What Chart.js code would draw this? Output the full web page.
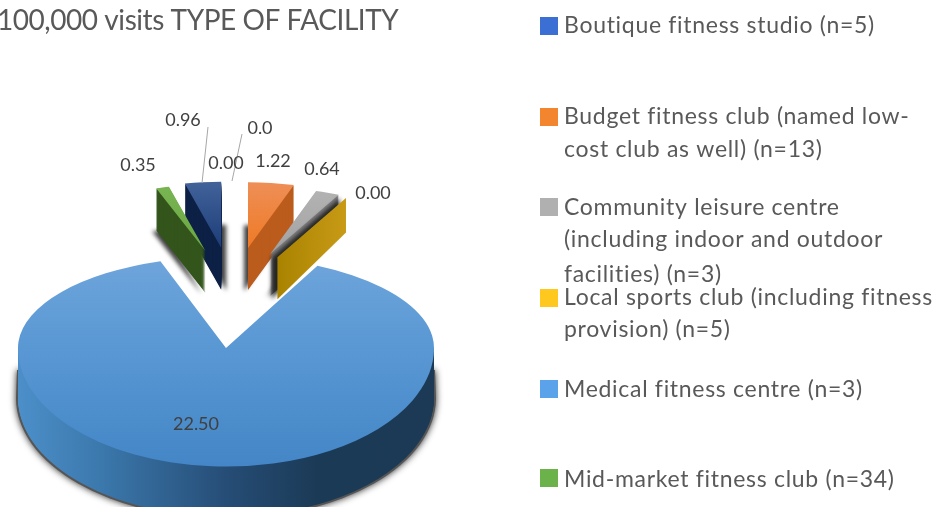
<!DOCTYPE html>
<html><head><meta charset="utf-8">
<style>html,body{margin:0;padding:0;background:#fff;overflow:hidden}
#wrap{width:943px;height:507px;position:relative;overflow:hidden}
canvas{display:block;filter:blur(0.55px)}</style>
<script src="https://cdn.jsdelivr.net/npm/chart.js@4"></script></head>
<body><div id="wrap"><canvas id="c" width="943" height="507"></canvas></div>
<script>
const categories = ["Boutique fitness studio (n=5)","Budget fitness club (named low-cost club as well) (n=13)","Community leisure centre (including indoor and outdoor facilities) (n=3)","Local sports club (including fitness provision) (n=5)","Medical fitness centre (n=3)","Mid-market fitness club (n=34)","Not listed in legend (a)","Not listed in legend (b)"];
const values = [0.00,1.22,0.64,0.00,22.50,0.35,0.96,0.00];
const valueLabels = ["0.00","1.22","0.64","0.00","22.50","0.35","0.96","0.0"];
const colors = ["#4472C4","#ED7D31","#A5A5A5","#FFC000","#5B9BD5","#70AD47","#264478","#9E480E"];
const swatchColors = ["#3C6FD4","#F4852F","#B0B0B0","#FFC81E","#5AA2EA","#6CB24A"];
const titleText = "100,000 visits TYPE OF FACILITY";
const legendLines = [
 ["Boutique fitness studio (n=5)"],
 ["Budget fitness club (named low-","cost club as well) (n=13)"],
 ["Community leisure centre","(including indoor and outdoor","facilities) (n=3)"],
 ["Local sports club (including fitness","provision) (n=5)"],
 ["Medical fitness centre (n=3)"],
 ["Mid-market fitness club (n=34)"]];

const FONT = 'Lato, "Open Sans", sans-serif';
const TEXT = '#595959';
const MAIN = 4;                       // index of the big slice
const PIE = {x:226,y:348,backK:0.44,frontK:0.57,depth:50};
const SMALL = {sx:0.75,sy:0.317,explode:101,shift:7,depth:42};
const FACE = {1:['#ee8f58','#ef7a25'],2:['#b4b4b4','#a2a2a2'],5:['#79b553','#6aa842'],6:['#43639b','#1c3d78']};
const WALL = {1:'#bb5c1d',2:'#7f7f7f',3:'#bc930b',5:'#33551c',6:'#0d2045'};
const DRAW_ORDER = [6,5,1,2,3];
const LABEL_POS = [[226,163],[273,161],[322,169],[373,193],[196,424],[138,165],[183,120],[260,128]];
const LEADERS = [[[208,127],[202,183]],[[242,134],[232,181]]];
const LEGEND_Y = [[33],[124,157],[215,247,282],[305,337],[397],[487]];
const SWATCH_Y = [17,108,198,289,380,469];

function withArc(arc,fill,ctx){
  const saved=arc.options;
  arc.options=Object.assign({},saved,{backgroundColor:fill,borderWidth:0});
  arc.draw(ctx);
  arc.options=saved;
}
function smallPlace(arc){
  const mid=(arc.startAngle+arc.endAngle)/2+Math.PI/2;
  return {x:PIE.x+SMALL.shift+SMALL.explode*Math.sin(mid),y:PIE.y-SMALL.explode*Math.cos(mid)};
}
function placeCtx(ctx,arc,px,py,sx,sy,dy){
  ctx.translate(px,py+(dy||0));ctx.scale(sx,sy);ctx.translate(-arc.x,-arc.y);
}
function flatGrad(ctx,arc,py,sy,y0,y1,c0,c1){
  const g=ctx.createLinearGradient(0,arc.y+(y0-py)/sy,0,arc.y+(y1-py)/sy);
  g.addColorStop(0,c0);g.addColorStop(1,c1);return g;
}
function drawSmall(ctx,arc,i){
  const p=smallPlace(arc),S=SMALL;
  if(arc.circumference===0){
    // a slice of no angle still shows its one radial wall
    if(!WALL[i])return;
    const a=arc.startAngle,R=arc.outerRadius;
    const ex=p.x+Math.cos(a)*R*S.sx, ey=p.y+Math.sin(a)*R*S.sy;
    const g=ctx.createLinearGradient(p.x,0,ex,0);
    g.addColorStop(0,'#a98300');g.addColorStop(1,'#c89a16');
    ctx.save();ctx.shadowColor='rgba(0,0,0,.7)';ctx.shadowBlur=4;ctx.shadowOffsetX=-6;
    ctx.fillStyle=g;ctx.beginPath();ctx.moveTo(p.x,p.y);ctx.lineTo(ex,ey);
    ctx.lineTo(ex,ey+S.depth*0.82);ctx.lineTo(p.x,p.y+S.depth);ctx.closePath();ctx.fill();
    ctx.restore();
    return;
  }
  ctx.save();
  ctx.shadowColor='rgba(0,0,0,.75)';ctx.shadowBlur=4;
  ctx.shadowOffsetX=i===6?5:-4;ctx.shadowOffsetY=1;
  ctx.save();placeCtx(ctx,arc,p.x,p.y,S.sx,S.sy,S.depth);withArc(arc,WALL[i],ctx);ctx.restore();
  ctx.restore();
  for(let d=S.depth-1;d>=1;d--){
    ctx.save();placeCtx(ctx,arc,p.x,p.y,S.sx,S.sy,d);withArc(arc,WALL[i],ctx);ctx.restore();
  }
  ctx.save();placeCtx(ctx,arc,p.x,p.y,S.sx,S.sy);
  withArc(arc,flatGrad(ctx,arc,p.y,S.sy,p.y-68,p.y,FACE[i][0],FACE[i][1]),ctx);
  ctx.restore();
}
function halves(ctx,arc,fillFor){
  const R=arc.outerRadius+2,P=PIE;
  [[P.backK,-1],[P.frontK,1]].forEach(([k,side])=>{
    ctx.save();
    ctx.beginPath();
    ctx.rect(P.x-R,side<0?P.y-R:P.y,2*R,R);
    ctx.clip();
    placeCtx(ctx,arc,P.x,P.y,1,k);
    withArc(arc,fillFor(k),ctx);
    ctx.restore();
  });
}
function drawMain(ctx,arc){
  const P=PIE,R=arc.outerRadius;
  const side=ctx.createLinearGradient(P.x-R,0,P.x+R,0);
  side.addColorStop(0,'#4c8fc9');side.addColorStop(.2,'#3b78ac');side.addColorStop(.5,'#264d76');
  side.addColorStop(.72,'#1b3a56');side.addColorStop(1,'#1c3a55');
  // soft shadow under the side wall
  ctx.save();
  ctx.shadowColor='rgba(0,0,0,.85)';ctx.shadowBlur=7;
  ctx.beginPath();
  ctx.ellipse(P.x,P.y+P.depth,R+2,R*P.frontK+2,0,0,Math.PI);
  ctx.lineTo(P.x-R-1,P.y+22);ctx.lineTo(P.x+R+1,P.y+22);ctx.closePath();
  ctx.fillStyle='#555';ctx.fill();
  ctx.restore();
  // side wall, only the front half is visible
  for(let d=P.depth;d>=1;d--){
    ctx.save();
    ctx.beginPath();ctx.rect(P.x-R-2,P.y+d,2*R+4,R);ctx.clip();
    placeCtx(ctx,arc,P.x,P.y,1,P.frontK,d);
    withArc(arc,side,ctx);
    ctx.restore();
  }
  halves(ctx,arc,k=>{
    const g=ctx.createLinearGradient(0,arc.y+(258-P.y)/k,0,arc.y+(470-P.y)/k);
    g.addColorStop(0,'#6ea5db');g.addColorStop(.45,'#5897d3');g.addColorStop(1,'#4385c6');
    return g;
  });
}

const pie3d={
  id:'pie3d',
  beforeDatasetsDraw(chart){
    const ctx=chart.ctx,arcs=chart.getDatasetMeta(0).data;
    ctx.save();
    DRAW_ORDER.forEach(i=>drawSmall(ctx,arcs[i],i));
    drawMain(ctx,arcs[MAIN]);
    ctx.restore();
    return false;
  },
  afterDraw(chart){
    const ctx=chart.ctx;
    ctx.save();
    ctx.textBaseline='alphabetic';ctx.textAlign='left';
    ctx.fillStyle=TEXT;
    ctx.letterSpacing='-0.45px';
    ctx.font='28px '+FONT;ctx.fillText(titleText,-3,30);
    ctx.letterSpacing='0.7px';
    legendLines.forEach((lines,i)=>{
      ctx.fillStyle=swatchColors[i];ctx.fillRect(540,SWATCH_Y[i],18,18);
      ctx.fillStyle=TEXT;ctx.font='23px '+FONT;
      lines.forEach((t,j)=>ctx.fillText(t,564,LEGEND_Y[i][j]));
    });
    ctx.letterSpacing='0px';
    ctx.strokeStyle='#a6a6a6';ctx.lineWidth=1;
    LEADERS.forEach(l=>{ctx.beginPath();ctx.moveTo(l[0][0],l[0][1]);ctx.lineTo(l[1][0],l[1][1]);ctx.stroke();});
    ctx.fillStyle='#404040';ctx.font='18px '+FONT;ctx.textAlign='center';ctx.textBaseline='middle';
    valueLabels.forEach((t,i)=>ctx.fillText(t,LABEL_POS[i][0],LABEL_POS[i][1]));
    ctx.restore();
  }
};
new Chart(document.getElementById('c'),{
  type:'pie',
  data:{labels:categories,datasets:[{data:values,backgroundColor:colors,borderWidth:0}]},
  options:{responsive:false,animation:false,
    layout:{padding:{left:18,right:509,top:45,bottom:46}},
    plugins:{legend:{display:false},title:{display:false},tooltip:{enabled:false}}},
  plugins:[pie3d]
});
</script></body></html>
